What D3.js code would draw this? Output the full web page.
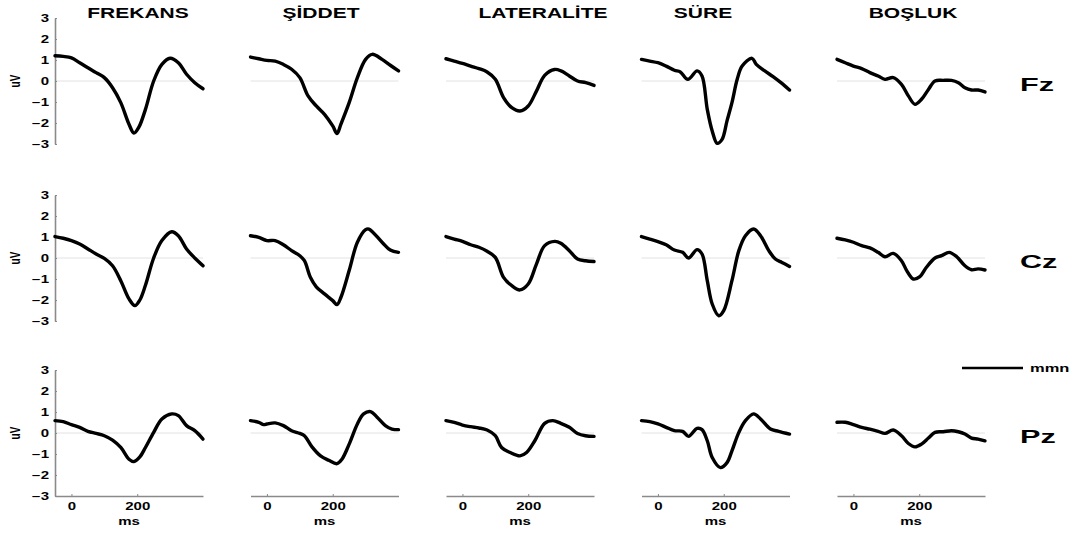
<!DOCTYPE html>
<html>
<head>
<meta charset="utf-8">
<script src="https://cdn.jsdelivr.net/npm/d3@7"></script>
<style>
  body { margin: 0; background: #fff; }
  text { font-family: "Liberation Sans", Arial, sans-serif; font-weight: bold; fill: #000; }
</style>
</head>
<body>
<div id="erp"></div>
<script>
// conditions (columns) and electrodes (rows)
const conditions = ['FREKANS', 'ŞİDDET', 'LATERALİTE', 'SÜRE', 'BOŞLUK'];
const electrodes = ['Fz', 'Cz', 'Pz'];
const yTicks = [-3, -2, -1, 0, 1, 2, 3];
const xTicks = [0, 200];
const xLabel = 'ms';
const yLabel = 'uV';
const legendLabel = 'mmn';

// waveforms as [ms, uV]
const fzFrekans = [[-50,1.2],[-25,1.17],[0,1.1],[25,0.87],[50,0.63],[75,0.4],[100,0.16],[125,-0.32],[150,-1.03],[175,-2.06],[190,-2.48],[205,-2.2],[225,-1.35],[250,0],[275,0.79],[300,1.08],[325,0.87],[350,0.32],[375,-0.08],[400,-0.37]];
const fzSiddet = [[-50,1.14],[-25,1.06],[0,0.98],[25,0.95],[50,0.79],[75,0.56],[100,0.16],[125,-0.71],[150,-1.19],[175,-1.59],[200,-2.14],[213,-2.5],[225,-2.05],[250,-1.03],[275,0.16],[300,1.03],[320,1.27],[350,1.03],[375,0.75],[400,0.48]];
const fzLateralite = [[-50,1.06],[-25,0.95],[0,0.84],[25,0.71],[50,0.59],[75,0.43],[100,0.08],[125,-0.79],[150,-1.27],[175,-1.43],[200,-1.19],[225,-0.48],[250,0.27],[280,0.55],[300,0.48],[325,0.24],[350,0],[375,-0.08],[400,-0.21]];
const fzSure = [[-50,1.03],[-25,0.95],[0,0.87],[25,0.71],[50,0.51],[68,0.43],[91,0.08],[119,0.48],[134,0.24],[150,-1.35],[165,-2.38],[180,-2.97],[195,-2.78],[210,-1.9],[225,-1.03],[241,0.08],[256,0.71],[286,1.08],[299,0.79],[325,0.48],[350,0.21],[374,-0.08],[400,-0.43]];
const fzBosluk = [[-50,1.03],[-25,0.87],[0,0.71],[25,0.59],[50,0.4],[75,0.24],[96,0.08],[121,0.16],[146,-0.16],[167,-0.71],[187,-1.11],[207,-0.87],[228,-0.4],[248,0],[273,0.03],[298,0.03],[319,-0.08],[339,-0.32],[359,-0.43],[379,-0.43],[400,-0.52]];

const czFrekans = [[-50,1.02],[-25,0.94],[0,0.83],[25,0.67],[50,0.43],[75,0.19],[100,-0.02],[125,-0.37],[150,-1.08],[175,-1.95],[193,-2.27],[208,-2.0],[225,-1.3],[250,0],[275,0.83],[305,1.25],[325,1.06],[350,0.43],[375,0],[400,-0.37]];
const czSiddet = [[-50,1.06],[-25,0.98],[0,0.83],[25,0.83],[50,0.63],[75,0.35],[100,0.11],[114,-0.13],[132,-0.92],[150,-1.37],[175,-1.71],[200,-2.03],[213,-2.22],[225,-1.87],[250,-0.6],[275,0.75],[300,1.35],[310,1.38],[350,0.75],[375,0.38],[400,0.27]];
const czLateralite = [[-50,1.02],[-25,0.9],[0,0.79],[25,0.63],[50,0.51],[75,0.32],[100,0.03],[125,-0.92],[150,-1.32],[175,-1.52],[200,-1.24],[225,-0.29],[250,0.59],[281,0.79],[299,0.7],[325,0.35],[350,-0.05],[374,-0.13],[400,-0.17]];
const czSure = [[-50,1.02],[-25,0.9],[0,0.78],[25,0.63],[50,0.38],[75,0.27],[93,0],[119,0.4],[134,0.19],[150,-1.08],[165,-2.19],[185,-2.75],[200,-2.51],[225,-1.08],[246,0.35],[266,1.06],[291,1.38],[312,1.06],[337,0.35],[357,-0.05],[377,-0.21],[400,-0.4]];
const czBosluk = [[-50,0.94],[-25,0.86],[0,0.75],[25,0.59],[50,0.48],[75,0.27],[96,0.06],[121,0.22],[146,-0.13],[162,-0.6],[182,-1.0],[202,-0.89],[222,-0.44],[248,0],[268,0.11],[291,0.27],[314,0.06],[339,-0.37],[359,-0.56],[379,-0.52],[400,-0.57]];

const pzFrekans = [[-50,0.59],[-25,0.54],[0,0.4],[25,0.27],[50,0.08],[75,-0.02],[100,-0.13],[125,-0.34],[150,-0.69],[175,-1.25],[190,-1.36],[208,-1.14],[225,-0.69],[250,0.03],[275,0.67],[305,0.91],[325,0.83],[350,0.35],[375,0.11],[400,-0.29]];
const pzSiddet = [[-50,0.59],[-25,0.51],[-10,0.4],[0,0.43],[25,0.48],[50,0.35],[75,0.11],[100,-0.02],[114,-0.13],[137,-0.66],[163,-1.09],[188,-1.3],[213,-1.46],[228,-1.25],[250,-0.53],[275,0.43],[294,0.91],[315,1.02],[335,0.75],[360,0.35],[380,0.19],[400,0.16]];
const pzLateralite = [[-50,0.59],[-25,0.51],[0,0.38],[25,0.3],[50,0.24],[75,0.14],[100,-0.13],[119,-0.69],[145,-0.93],[175,-1.09],[195,-0.93],[220,-0.37],[250,0.46],[275,0.59],[299,0.46],[325,0.27],[350,-0.02],[374,-0.13],[400,-0.16]];
const pzSure = [[-50,0.59],[-25,0.54],[0,0.43],[25,0.27],[50,0.11],[75,0.08],[93,-0.16],[119,0.22],[134,0.16],[150,-0.37],[165,-1.17],[190,-1.65],[210,-1.41],[225,-0.85],[246,0.03],[266,0.59],[291,0.91],[312,0.67],[342,0.19],[367,0.08],[400,-0.05]];
const pzBosluk = [[-50,0.51],[-25,0.51],[0,0.4],[25,0.27],[50,0.18],[75,0.08],[96,-0.02],[121,0.14],[146,-0.13],[167,-0.5],[187,-0.66],[207,-0.53],[228,-0.24],[248,0.03],[273,0.06],[298,0.11],[319,0.06],[339,-0.05],[359,-0.24],[379,-0.29],[400,-0.37]];

const waves = [
    [fzFrekans, fzSiddet, fzLateralite, fzSure, fzBosluk],
    [czFrekans, czSiddet, czLateralite, czSure, czBosluk],
    [pzFrekans, pzSiddet, pzLateralite, pzSure, pzBosluk],
];

// layout
const width = 1083;
const height = 536;
const panelW = 148;
const panelH = 126;
const colLeft = (i) => 55 + i * 195.5;
const rowTop = [18, 195, 370];
const titleCenters = [138, 321, 543, 703, 913];
const sx = 1.5; // the original is stretched sideways

const svg = d3
    .select('#erp')
    .append('svg')
    .attr('width', width)
    .attr('height', height);

const x = d3.scaleLinear().domain([-50, 400]).range([0, panelW]);
const y = d3.scaleLinear().domain([-3, 3]).range([panelH, 0]);

const line = d3
    .line()
    .x((d) => x(d[0]))
    .y((d) => y(d[1]))
    .curve(d3.curveCatmullRom.alpha(0.5));

// column titles
conditions.forEach((c, i) => {
    svg.append('text')
        .attr('transform', `translate(${titleCenters[i]},18) scale(${sx},1)`)
        .attr('text-anchor', 'middle')
        .style('font-size', '14px')
        .text(c);
});

electrodes.forEach((el, r) => {
    conditions.forEach((c, ci) => {
        const g = svg.append('g')
            .attr('transform', `translate(${colLeft(ci)},${rowTop[r]})`);

        // zero line
        g.append('line')
            .attr('x1', 0)
            .attr('x2', panelW)
            .attr('y1', y(0))
            .attr('y2', y(0))
            .attr('stroke', '#e2e2e2')
            .attr('stroke-width', 1);

        if (ci === 0) {
            const ax = g.append('g')
                .call(d3.axisLeft(y).tickValues(yTicks).tickFormat(d3.format('d'))
                    .tickSize(-2).tickSizeOuter(0).tickPadding(4));
            ax.select('.domain').attr('stroke', '#8a8a8a').attr('stroke-width', 1.6);
            ax.selectAll('.tick line').attr('stroke', '#8a8a8a');
            ax.selectAll('text')
                .style('font-size', '10px')
                .style('font-family', '"Liberation Sans", Arial, sans-serif')
                .style('font-weight', 'bold')
                .attr('transform', `scale(${sx},1)`);

            svg.append('text')
                .attr('transform', `translate(20,${rowTop[r] + y(0)}) rotate(-90) scale(1,${sx})`)
                .attr('text-anchor', 'middle')
                .style('font-size', '10px')
                .text(yLabel);
        }

        if (r === electrodes.length - 1) {
            const ax = g.append('g')
                .attr('transform', `translate(0,${panelH})`)
                .call(d3.axisBottom(x).tickValues(xTicks).tickSize(-2).tickSizeOuter(0).tickPadding(7));
            ax.select('.domain').attr('stroke', '#8a8a8a').attr('stroke-width', 1.6);
            ax.selectAll('.tick line').attr('stroke', '#8a8a8a');
            ax.selectAll('text')
                .style('font-size', '10px')
                .style('font-family', '"Liberation Sans", Arial, sans-serif')
                .style('font-weight', 'bold')
                .attr('transform', `scale(${sx},1)`);

            g.append('text')
                .attr('transform', `translate(${panelW / 2},${panelH + 29}) scale(${sx},1)`)
                .attr('text-anchor', 'middle')
                .style('font-size', '10px')
                .text(xLabel);
        }

        g.append('path')
            .datum(waves[r][ci])
            .attr('fill', 'none')
            .attr('stroke', '#000')
            .attr('stroke-width', 3.4)
            .attr('stroke-linejoin', 'round')
            .attr('stroke-linecap', 'round')
            .attr('d', line);
    });

    // electrode label
    svg.append('text')
        .attr('transform', `translate(1020,${rowTop[r] + y(0) + 10}) scale(1.7,1)`)
        .style('font-size', '18px')
        .text(el);
});

// legend
svg.append('line')
    .attr('x1', 962)
    .attr('x2', 1023)
    .attr('y1', 368)
    .attr('y2', 368)
    .attr('stroke', '#000')
    .attr('stroke-width', 2.5);

svg.append('text')
    .attr('transform', `translate(1030,372) scale(${sx},1)`)
    .style('font-size', '11px')
    .text(legendLabel);
</script>
</body>
</html>
